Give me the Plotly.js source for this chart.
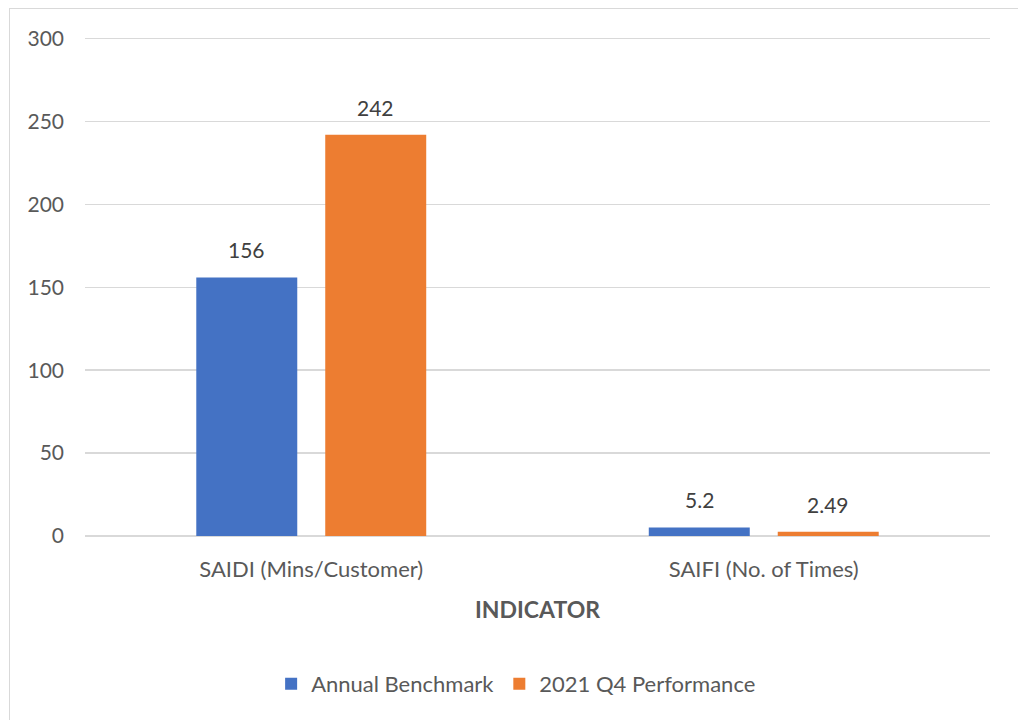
<!DOCTYPE html>
<html><head><meta charset="utf-8">
<script src="https://cdn.plot.ly/plotly-3.0.1.min.js"></script>
<style>
html,body{margin:0;padding:0;background:#fff;}
#frame{position:absolute;left:9px;top:8px;width:1100px;height:800px;border-top:1.5px solid #d9d9d9;border-left:1.5px solid #d9d9d9;}
#chart{position:absolute;left:0;top:0;width:1018px;height:720px;}
</style></head>
<body>
<div id="frame"></div>
<div id="chart"></div>
<script>
const categories = ["SAIDI (Mins/Customer)", "SAIFI (No. of Times)"];
const seriesNames = ["Annual Benchmark", "2021 Q4 Performance"];
const annualBenchmark = [156, 5.2];
const q4Performance = [242, 2.49];
const colors = ["#4472C4", "#ED7D31"];
const font = "Lato, Liberation Sans, Arial, sans-serif";
const textColor = "#595959";

const traces = [annualBenchmark, q4Performance].map((vals, i) => ({
  type: "bar", x: categories, y: vals, name: seriesNames[i],
  marker: {color: colors[i]}, hoverinfo: "skip"
}));

const annotations = [];
[annualBenchmark, q4Performance].forEach((vals, i) => {
  vals.forEach((v, j) => {
    annotations.push({x: categories[j], y: v, xref: "x", yref: "y", text: String(v),
      showarrow: false, xshift: i === 0 ? -64.5 : 64.5, yanchor: "bottom", yshift: 13,
      font: {family: font, size: 21, color: "#404040"}});
  });
});

const layout = {
  width: 1018, height: 720,
  margin: {l: 85, r: 28, t: 37, b: 184},
  paper_bgcolor: "rgba(0,0,0,0)", plot_bgcolor: "rgba(0,0,0,0)",
  font: {family: font, color: textColor, size: 21},
  barmode: "group", bargap: 0.43, bargroupgap: 0.217,
  showlegend: true,
  legend: {orientation: "h", xref: "container", yref: "container", x: 0.507, xanchor: "center", y: 0.05, yanchor: "middle",
    font: {family: font, size: 22, color: textColor}, itemwidth: 30, traceorder: "normal"},
  xaxis: {type: "category", showgrid: false, zeroline: false, showline: false, ticks: "",
    ticklabelstandoff: 18, tickfont: {family: font, size: 22, color: textColor},
    title: {text: "<b>INDICATOR</b>", standoff: 20, font: {family: font, size: 23, color: textColor}}},
  yaxis: {range: [0, 301], tickvals: [0, 50, 100, 150, 200, 250, 300], showgrid: true, gridcolor: "#d9d9d9", gridwidth: 1.5,
    zeroline: true, zerolinecolor: "#d9d9d9", zerolinewidth: 1.5, showline: false, ticks: "",
    ticklabelstandoff: 20, tickfont: {family: font, size: 21, color: textColor}},
  annotations: annotations
};

Plotly.newPlot("chart", traces, layout, {displayModeBar: false, staticPlot: true});
</script>
</body></html>
